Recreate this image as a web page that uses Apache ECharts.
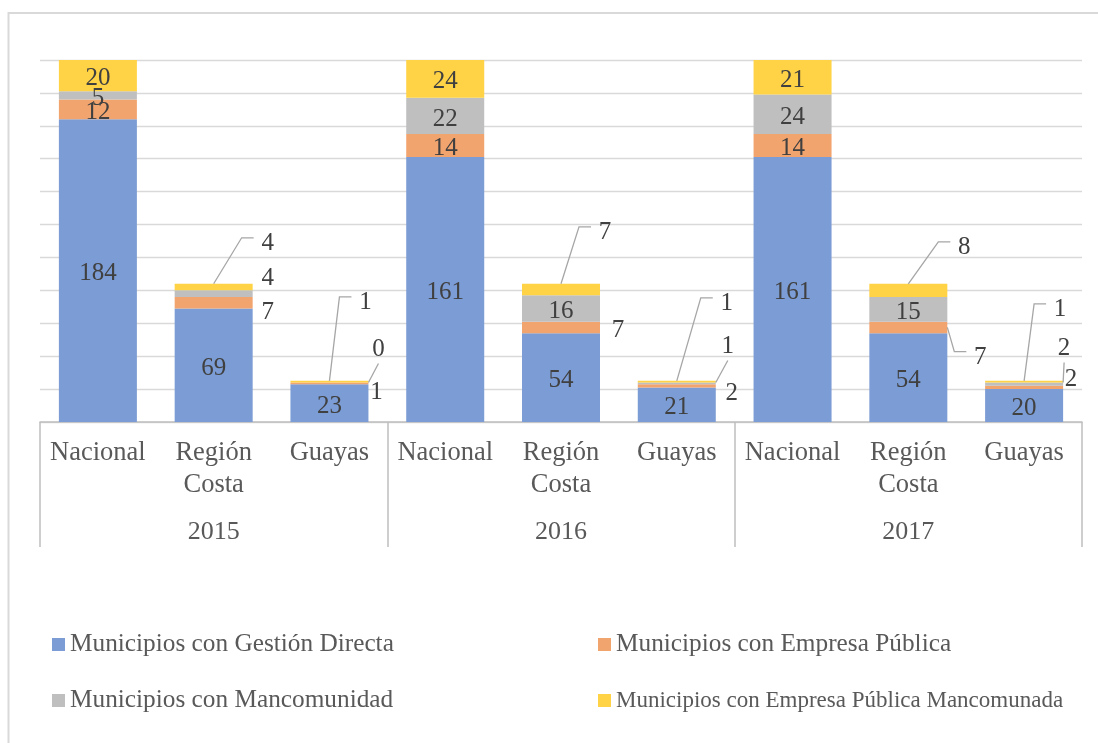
<!DOCTYPE html>
<html>
<head>
<meta charset="utf-8">
<script src="https://cdn.jsdelivr.net/npm/echarts@6/dist/echarts.min.js"></script>
<style>
	html, body { margin: 0; padding: 0; background: #fff; }
	#chart { width: 1098px; height: 743px; }
</style>
</head>
<body>
<div id="chart"></div>
<script>
var categories = ['Nacional', 'Región\nCosta', 'Guayas', 'Nacional', 'Región\nCosta', 'Guayas', 'Nacional', 'Región\nCosta', 'Guayas'];
var years = ['2015', '2016', '2017'];

var gestionDirecta = [184, 69, 23, 161, 54, 21, 161, 54, 20];
var empresaPublica = [12, 7, 1, 14, 7, 2, 14, 7, 2];
var mancomunidad = [5, 4, 0, 22, 16, 1, 24, 15, 2];
var empresaMancomunada = [20, 4, 1, 24, 7, 1, 21, 8, 1];

var seriesNames = ['Municipios con Gestión Directa', 'Municipios con Empresa Pública', 'Municipios con Mancomunidad', 'Municipios con Empresa Pública Mancomunada'];
var seriesValues = [gestionDirecta, empresaPublica, mancomunidad, empresaMancomunada];

var COLOR = ['#7B9CD4', '#F2A46F', '#BFBFBF', '#FFD345'];
var FONT = '"Liberation Serif", "Times New Roman", serif';
var BAR_W = 78;

// etiquetas fuera de la barra: desplazamiento desde el centro superior del segmento
// clave = serie:categoria
var OUTSIDE = {
	'3:1': { dx: 54, dy: -43, line: 'top' },
	'2:1': { dx: 54, dy: -15 },
	'1:1': { dx: 54, dy: 12 },
	'3:2': { dx: 36, dy: -81, line: 'top' },
	'2:2': { dx: 49, dy: -36, line: 'corner' },
	'1:2': { dx: 47, dy: 7 },
	'3:4': { dx: 44, dy: -54, line: 'top' },
	'1:4': { dx: 57, dy: 6 },
	'3:5': { dx: 50, dy: -80, line: 'top' },
	'2:5': { dx: 51, dy: -39, line: 'corner' },
	'1:5': { dx: 55, dy: 6 },
	'3:7': { dx: 56, dy: -39, line: 'top' },
	'1:7': { dx: 72, dy: 33, line: 'side' },
	'3:8': { dx: 36, dy: -74, line: 'top' },
	'2:8': { dx: 40, dy: -37, line: 'corner' },
	'1:8': { dx: 47, dy: -9 }
};

function buildBarSeries(s) {
	var data = seriesValues[s].map(function (v, i) {
		var spot = OUTSIDE[s + ':' + i];
		if (!spot) return v;
		return {
			value: v,
			label: {
				position: [BAR_W / 2 + spot.dx, spot.dy],
				align: 'center',
				verticalAlign: 'middle'
			}
		};
	});
	return {
		name: seriesNames[s],
		type: 'bar',
		stack: 'total',
		barWidth: BAR_W,
		itemStyle: { color: COLOR[s] },
		label: {
			show: true,
			position: 'inside',
			offset: [0, 3],
			color: '#404040',
			fontSize: 25,
			fontFamily: FONT
		},
		data: data
	};
}

// lineas guia de las etiquetas exteriores
var leaders = [];
var leaderData = [];
Object.keys(OUTSIDE).forEach(function (key) {
	var spot = OUTSIDE[key];
	if (!spot.line) return;
	var s = +key.split(':')[0];
	var cat = +key.split(':')[1];
	var lo = 0;
	for (var k = 0; k < s; k++) lo += seriesValues[k][cat];
	leaders.push(spot);
	leaderData.push([cat, lo, lo + seriesValues[s][cat]]);
});

function renderLeader(params, api) {
	var spot = leaders[params.dataIndex];
	var top = api.coord([api.value(0), api.value(2)]);
	var bot = api.coord([api.value(0), api.value(1)]);
	var lx = top[0] + spot.dx;
	var ly = top[1] + spot.dy;
	var pts;
	if (spot.line === 'corner') {
		pts = [[top[0] + BAR_W / 2, top[1]], [lx, ly + 17]];
	} else {
		var start = spot.line === 'side' ? [top[0] + BAR_W / 2, (top[1] + bot[1]) / 2] : [top[0], top[1]];
		pts = [start, [lx - 26, ly - 3], [lx - 14, ly - 3]];
	}
	return {
		type: 'polyline',
		shape: { points: pts },
		style: { stroke: '#A6A6A6', lineWidth: 1.3, fill: null }
	};
}

function legendAt(name, left, top, size) {
	return {
		data: [name],
		left: left,
		top: top,
		padding: 0,
		icon: 'rect',
		itemWidth: 13,
		itemHeight: 13,
		selectedMode: false,
		textStyle: { color: '#595959', fontSize: size, fontFamily: FONT }
	};
}

var series = [0, 1, 2, 3].map(buildBarSeries);
series.push({
	type: 'custom',
	silent: true,
	z: 5,
	xAxisIndex: 0,
	yAxisIndex: 0,
	encode: { x: 0, y: [1, 2] },
	renderItem: renderLeader,
	data: leaderData
});

var myChart = echarts.init(document.getElementById('chart'));
myChart.setOption({
	animation: false,
	backgroundColor: '#fff',
	textStyle: { fontFamily: FONT },
	graphic: [{
		type: 'rect',
		silent: true,
		shape: { x: 8.5, y: 13, width: 1200, height: 800 },
		style: { fill: null, stroke: '#D9D9D9', lineWidth: 2 }
	}],
	grid: {
		left: 40,
		right: 16,
		top: 60,
		bottom: 321,
		containLabel: false
	},
	legend: [
		legendAt(seriesNames[0], 52, 632, 25.3),
		legendAt(seriesNames[1], 598, 632, 25.3),
		legendAt(seriesNames[2], 52, 688, 25.3),
		legendAt(seriesNames[3], 598, 689, 23)
	],
	xAxis: [{
		type: 'category',
		data: categories,
		axisLine: { show: true, lineStyle: { color: '#BFBFBF', width: 1.5 } },
		axisTick: { show: false },
		axisLabel: {
			interval: 0,
			margin: 15,
			color: '#595959',
			fontSize: 26.5,
			lineHeight: 32,
			fontFamily: FONT
		}
	}, {
		type: 'category',
		data: years,
		position: 'bottom',
		offset: 125,
		axisLine: { show: false },
		axisTick: {
			show: true,
			inside: true,
			length: 125,
			lineStyle: { color: '#BFBFBF', width: 1.5 }
		},
		axisLabel: {
			inside: true,
			margin: 2,
			color: '#595959',
			fontSize: 26,
			fontFamily: FONT
		}
	}],
	yAxis: {
		type: 'value',
		min: 0,
		max: 220,
		interval: 20,
		axisLabel: { show: false },
		axisLine: { show: false },
		axisTick: { show: false },
		splitLine: { show: true, lineStyle: { color: '#D9D9D9', width: 1.3 } }
	},
	series: series
});
</script>
</body>
</html>
